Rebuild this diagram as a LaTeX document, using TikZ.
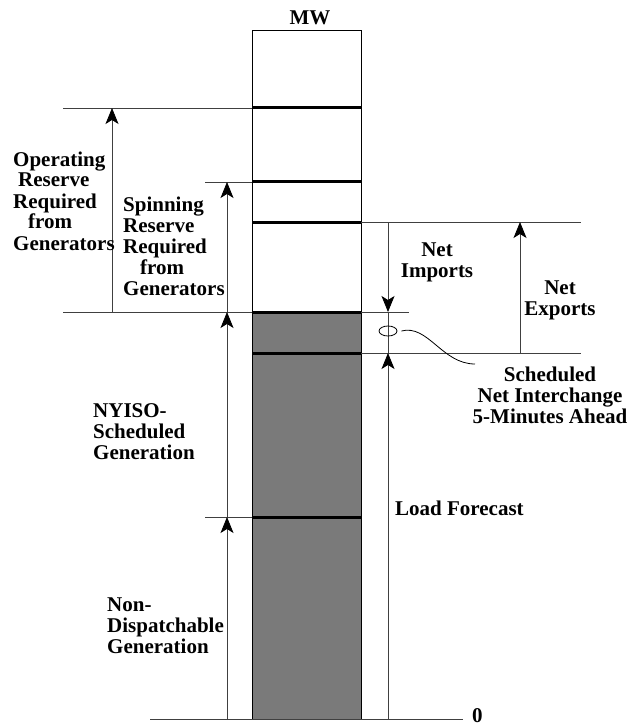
\documentclass[tikz,border=0pt]{standalone}
\usepackage{fontspec}
\setmainfont{Liberation Serif}
\usetikzlibrary{arrows.meta, shapes.geometric}

\begin{document}
\begin{tikzpicture}[x=1pt, y=-1pt,
  every node/.style={font=\bfseries\fontsize{21}{21}\selectfont, inner sep=0pt},
  level/.style={black!75, line width=0.8pt},
  bar/.style={black, line width=3pt},
  pfeil/.style={black!75, line width=0.8pt, -{Stealth[length=16pt, width=13pt, inset=4pt, black]}}]
  \useasboundingbox (0,0) rectangle (634,727);
  % Saeule: geplante Erzeugung grau gefuellt
  \fill[black!52] (252,312) rectangle (361,719);
  \draw[black, line width=1pt] (252,31) rectangle (361,719);
  % Trennlinien in der Saeule
  \foreach \y in {108,182,222,312,353,517}{ \draw[bar] (252,\y) -- (361,\y); }
  % Hilfslinien links
  \coordinate (opL) at (63,108);  \coordinate (opR) at (252,108);
  \coordinate (spL) at (205,182); \coordinate (spR) at (252,182);
  \coordinate (geL) at (63,312);  \coordinate (geR) at (252,312);
  \coordinate (ndL) at (205,517); \coordinate (ndR) at (252,517);
  \coordinate (nuL) at (150,719); \coordinate (nuR) at (463,719);
  \foreach \a/\b in {opL/opR, spL/spR, geL/geR, ndL/ndR, nuL/nuR}{ \draw[level] (\a) -- (\b); }
  % Hilfslinien rechts
  \coordinate (exL) at (361,222); \coordinate (exR) at (581,222);
  \coordinate (imL) at (361,312); \coordinate (imR) at (409,312);
  \coordinate (lfL) at (361,353); \coordinate (lfR) at (581,353);
  \foreach \a/\b in {exL/exR, imL/imR, lfL/lfR}{ \draw[level] (\a) -- (\b); }
  % Pfeile links
  \draw[pfeil] (112,312) -- (112,108);
  \draw[pfeil] (227,312) -- (227,182);
  \draw[pfeil] (227,517) -- (227,312);
  \draw[pfeil] (227,719) -- (227,517);
  % Pfeile rechts
  \draw[pfeil] (388,222) -- (388,312);
  \draw[pfeil] (520,353) -- (520,222);
  \draw[pfeil] (388,719) -- (388,353);
  \draw[level] (388,312) -- (388,353);
  % Austausch-Markierung mit Hinweislinie
  \node[draw, ellipse, black, line width=0.8pt, minimum width=18pt, minimum height=10pt] (ni) at (388,331) {};
  \coordinate (niEnd) at (475,364);
  \draw[black, line width=0.8pt] ([xshift=4pt]ni.east) .. controls (428,324) and (442,364) .. (niEnd);
  % Beschriftungen (base = letzte Zeile)
  \node[anchor=base] (mw) at (310,25) {MW};
  \node[anchor=base west, align=left] (opLbl) at (13,250)
    {Operating\\\hspace{5pt}Reserve\\Required\\\hspace{15pt}from\\Generators};
  \node[anchor=base west, align=left] (spLbl) at (123,295)
    {Spinning\\Reserve\\Required\\\hspace{17pt}from\\Generators};
  \node[anchor=base west, align=left] (nyLbl) at (93,459) {NYISO-\\Scheduled\\Generation};
  \node[anchor=base west, align=left] (ndLbl) at (107,653) {Non-\\Dispatchable\\Generation};
  \node[anchor=base, align=center] (imLbl) at (437,277) {Net\\Imports};
  \node[anchor=base, align=center] (exLbl) at (560,315) {Net\\Exports};
  \node[anchor=base, align=center] (niLbl) at (550,423) {Scheduled\\Net Interchange\\5-Minutes Ahead};
  \node[anchor=base west] (lfLbl) at (395,515) {Load Forecast};
  \node[anchor=base west] (null) at (472,722) {0};
\end{tikzpicture}
\end{document}
